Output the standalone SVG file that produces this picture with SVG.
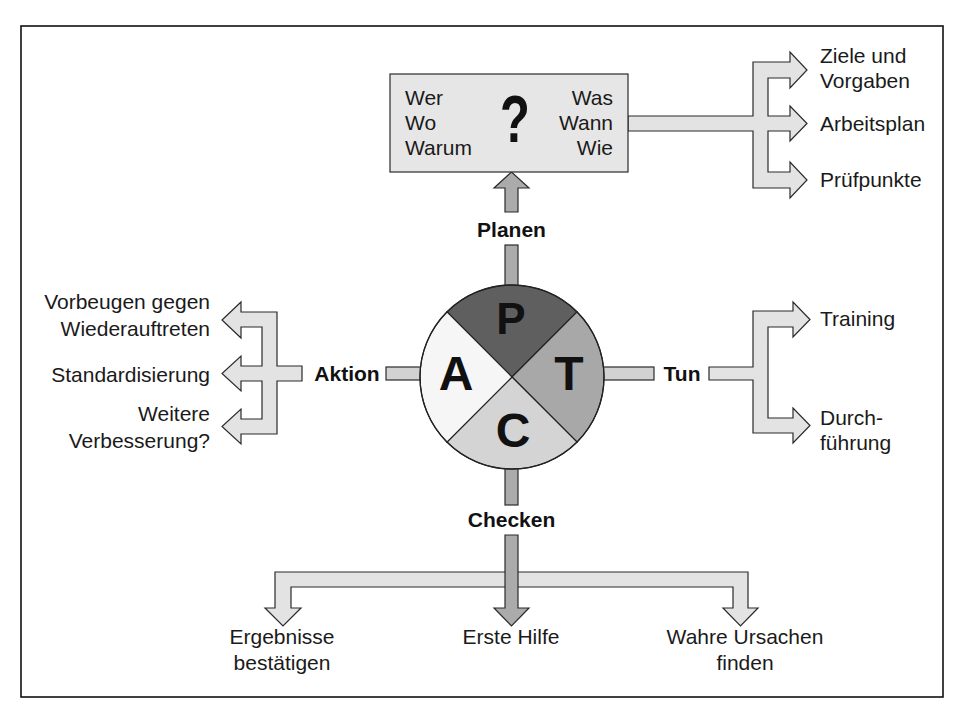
<svg xmlns="http://www.w3.org/2000/svg" width="960" height="720" viewBox="0 0 960 720">
<style>
.t{font-family:"Liberation Sans","Arial",sans-serif;font-size:21px;fill:#1a1a1a}
.b{font-family:"Liberation Sans","Arial",sans-serif;font-weight:bold;font-size:21px;fill:#111;text-anchor:middle}
.big{font-family:"Liberation Sans","Arial",sans-serif;font-weight:bold;fill:#111;text-anchor:middle}
.lt{fill:#e3e3e3;stroke:#2a2a2a;stroke-width:1.2;stroke-linejoin:miter}
.dk{fill:#ababab;stroke:#2a2a2a;stroke-width:1.2}
.md{fill:#d2d2d2;stroke:#2a2a2a;stroke-width:1.2}
.e{text-anchor:end}
.m{text-anchor:middle}
</style>
<rect width="960" height="720" fill="#ffffff"/>
<rect id="frame" x="21" y="26" width="922" height="671" fill="none" stroke="#111" stroke-width="1.6"/>

<g id="connectors">
  <!-- Planen -->
  <path class="dk" d="M505,212 V188 H494 L511.5,172 L529,188 H518 V212 Z"/>
  <rect class="dk" x="505" y="245" width="13" height="50"/>
  <!-- Checken -->
  <rect class="dk" x="505" y="460" width="13" height="45"/>
  <!-- Aktion stub -->
  <rect class="md" x="386" y="367" width="40" height="13"/>
  <!-- Tun stub -->
  <rect class="md" x="598" y="367" width="56" height="13"/>
  <!-- Plan outputs -->
  <path class="lt" d="M628,116 H753 V62 H790 V52 L807,70 L790,88 V78 H768 V116 H790 V106 L807,123.5 L790,141 V131 H768 V172 H790 V162 L807,180 L790,198 V188 H753 V131 H628 Z"/>
  <!-- Tun outputs -->
  <path class="lt" d="M709,367 H753 V311 H793 V302 L810,319.5 L793,337 V327 H768 V418 H793 V408 L810,425.5 L793,443 V433 H753 V380 H709 Z"/>
  <!-- Aktion outputs -->
  <path class="lt" d="M302,366 H277 V312 H241 V302 L222,320 L241,338 V327 H262 V366 H241 V356 L222,373.5 L241,391 V381 H262 V419 H241 V409 L222,426.5 L241,444 V434 H277 V381 H302 Z"/>
  <!-- Checken outputs -->
  <path class="lt" d="M275,572 H748 V608 H758 L740.5,626 L723,608 H733 V587 H291 V608 H301 L283,626 L265,608 H275 Z"/>
  <path class="dk" d="M505,535 H518 V608 H529 L511.5,626 L494,608 H505 Z"/>
</g>

<g id="plan-box">
  <rect x="390" y="74" width="238" height="98" fill="#e6e6e6" stroke="#2a2a2a" stroke-width="1.2"/>
  <text class="t" x="405" y="105">Wer</text>
  <text class="t" x="405" y="130">Wo</text>
  <text class="t" x="405" y="155">Warum</text>
  <text class="t e" x="613" y="105">Was</text>
  <text class="t e" x="613" y="130">Wann</text>
  <text class="t e" x="613" y="155">Wie</text>
  <text class="big" font-size="66" transform="translate(515,142) scale(0.74,1)">?</text>
</g>

<g id="pdca-circle">
  <path d="M512,377 L446.95,311.95 A92,92 0 0 1 577.05,311.95 Z" fill="#5f5f5f" stroke="#222" stroke-width="1.2"/>
  <path d="M512,377 L577.05,311.95 A92,92 0 0 1 577.05,442.05 Z" fill="#a8a8a8" stroke="#222" stroke-width="1.2"/>
  <path d="M512,377 L577.05,442.05 A92,92 0 0 1 446.95,442.05 Z" fill="#d4d4d4" stroke="#222" stroke-width="1.2"/>
  <path d="M512,377 L446.95,442.05 A92,92 0 0 1 446.95,311.95 Z" fill="#f6f6f6" stroke="#222" stroke-width="1.2"/>
  <circle cx="512" cy="377" r="92" fill="none" stroke="#222" stroke-width="1.3"/>
  <text class="big" x="511" y="334" font-size="44">P</text>
  <text class="big" x="456" y="390" font-size="48">A</text>
  <text class="big" x="569" y="390" font-size="48">T</text>
  <text class="big" x="513" y="447" font-size="48">C</text>
</g>

<g id="label-planen"><text class="b" x="511.5" y="237">Planen</text></g>
<g id="label-checken"><text class="b" x="511.5" y="527">Checken</text></g>
<g id="label-aktion"><text class="b" x="347" y="381">Aktion</text></g>
<g id="label-tun"><text class="b" x="682" y="381">Tun</text></g>

<g id="out-ziele"><text class="t" x="820" y="63">Ziele und</text><text class="t" x="820" y="88">Vorgaben</text></g>
<g id="out-arbeitsplan"><text class="t" x="820" y="131">Arbeitsplan</text></g>
<g id="out-pruefpunkte"><text class="t" x="820" y="187">Prüfpunkte</text></g>

<g id="out-training"><text class="t" x="820" y="326">Training</text></g>
<g id="out-durchfuehrung"><text class="t" x="820" y="425">Durch-</text><text class="t" x="820" y="450">führung</text></g>

<g id="out-vorbeugen"><text class="t e" x="210" y="309">Vorbeugen gegen</text><text class="t e" x="210" y="336">Wiederauftreten</text></g>
<g id="out-standard"><text class="t e" x="210" y="382">Standardisierung</text></g>
<g id="out-weitere"><text class="t e" x="210" y="421">Weitere</text><text class="t e" x="210" y="448">Verbesserung?</text></g>

<g id="out-ergebnisse"><text class="t m" x="282" y="644">Ergebnisse</text><text class="t m" x="282" y="670">bestätigen</text></g>
<g id="out-erste-hilfe"><text class="t m" x="511" y="644">Erste Hilfe</text></g>
<g id="out-ursachen"><text class="t m" x="745" y="644">Wahre Ursachen</text><text class="t m" x="745" y="670">finden</text></g>
</svg>
